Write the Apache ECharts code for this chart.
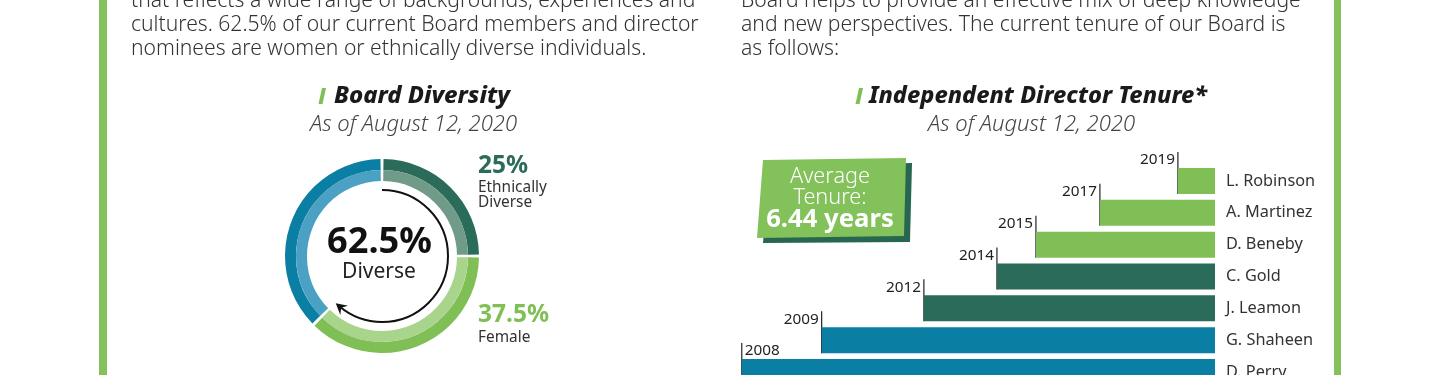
<!DOCTYPE html>
<html><head><meta charset="utf-8">
<script src="https://cdn.jsdelivr.net/npm/echarts@6/dist/echarts.min.js"></script>
<style>html,body{margin:0;padding:0;background:#fff}#c{width:1440px;height:375px}</style>
</head><body><div id="c"></div>
<script>
// ---- data ----
const diversityCategories = ['Ethnically Diverse', 'Female', 'Other'];
const diversityValues = [25, 37.5, 37.5];
const diverseTotalLabel = '62.5%';
const directorNames = ['L. Robinson', 'A. Martinez', 'D. Beneby', 'C. Gold', 'J. Leamon', 'G. Shaheen', 'D. Perry'];
const joinYears = ['2019', '2017', '2015', '2014', '2012', '2009', '2008'];
const tenureYears = [0.98, 3.04, 4.73, 5.76, 7.69, 10.39, 12.5];
const tenureGroup = [0, 0, 0, 1, 1, 2, 2];
const averageTenureLabel = '6.44 years';
const leftParagraph = [
  'that reflects a wide range of backgrounds, experiences and',
  'cultures. 62.5% of our current Board members and director',
  'nominees are women or ethnically diverse individuals.'
];
const rightParagraph = [
  'Board helps to provide an effective mix of deep knowledge',
  'and new perspectives. The current tenure of our Board is',
  'as follows:'
];
const asOfLabel = 'As of August 12, 2020';

// ---- styling ----
const F = "'Noto Sans', 'Open Sans', sans-serif";
const GREEN = '#80bf55', GREEN_IN = '#a9d48b';
const DGREEN = '#2b6b59', DGREEN_IN = '#709b89';
const BLUE = '#0b7fa3', BLUE_IN = '#4ba1c3';
const barColors = [GREEN, DGREEN, BLUE];
const TEXT = '#333';

const mctx = document.createElement('canvas').getContext('2d');
function fit(text, style, target) {
  mctx.font = style + ' 100px ' + F;
  return Math.round(100 * target / mctx.measureText(text).width * 10) / 10;
}
function font(style, size) { return style + ' ' + size + 'px ' + F; }

const chart = echarts.init(document.getElementById('c'));
const CX = 382, CY = 256;

const graphics = [];
// side borders
graphics.push({type: 'rect', shape: {x: 99, y: 0, width: 8, height: 375}, style: {fill: '#85c15a'}});
graphics.push({type: 'rect', shape: {x: 1334, y: 0, width: 7, height: 375}, style: {fill: '#85c15a'}});
// paragraphs
const paraSize = fit(leftParagraph[1], '300', 568);
leftParagraph.forEach((t, i) => graphics.push({type: 'text', x: 131, y: 1 + i * 24,
  style: {text: t, font: font('300', paraSize), fill: TEXT, verticalAlign: 'middle'}}));
rightParagraph.forEach((t, i) => graphics.push({type: 'text', x: 741, y: 1 + i * 24,
  style: {text: t, font: font('300', paraSize), fill: TEXT, verticalAlign: 'middle'}}));
// titles
function title(slashX, x, y, txt, w) {
  graphics.push({type: 'polygon', shape: {points: [[slashX + 3, y - 8], [slashX + 7, y - 8], [slashX + 3.5, y + 8], [slashX - 0.5, y + 8]]}, style: {fill: GREEN}});
  graphics.push({type: 'text', x: x, y: y, style: {text: txt, font: font('italic 800', fit(txt, 'italic 800', w)),
    fill: '#1a1a1a', verticalAlign: 'middle'}});
}
title(319, 334, 96, 'Board Diversity', 176);
title(856, 869, 96, 'Independent Director Tenure*', 338);
const subSize = fit(asOfLabel, 'italic 300', 207);
graphics.push({type: 'text', x: 413.5, y: 125, style: {text: asOfLabel, font: font('italic 300', subSize), fill: '#444', align: 'center', verticalAlign: 'middle'}});
graphics.push({type: 'text', x: 1031.5, y: 125, style: {text: asOfLabel, font: font('italic 300', subSize), fill: '#444', align: 'center', verticalAlign: 'middle'}});
// donut center text
graphics.push({type: 'text', x: 379.5, y: 243, style: {text: diverseTotalLabel, font: font('bold', fit(diverseTotalLabel, 'bold', 105)), fill: '#111', align: 'center', verticalAlign: 'middle'}});
graphics.push({type: 'text', x: 379, y: 272, style: {text: 'Diverse', font: font('normal', fit('Diverse', 'normal', 74)), fill: '#222', align: 'center', verticalAlign: 'middle'}});
// donut labels
const pctSize = fit(diversityValues[1] + '%', 'bold', 71);
const smallSize = fit('Ethnically', 'normal', 69);
graphics.push({type: 'text', x: 478, y: 166, style: {text: diversityValues[0] + '%', font: font('bold', pctSize), fill: DGREEN, verticalAlign: 'middle'}});
graphics.push({type: 'text', x: 478, y: 188, style: {text: 'Ethnically', font: font('normal', smallSize), fill: TEXT, verticalAlign: 'middle'}});
graphics.push({type: 'text', x: 478, y: 203, style: {text: 'Diverse', font: font('normal', smallSize), fill: TEXT, verticalAlign: 'middle'}});
graphics.push({type: 'text', x: 478, y: 315, style: {text: diversityValues[1] + '%', font: font('bold', pctSize), fill: GREEN, verticalAlign: 'middle'}});
graphics.push({type: 'text', x: 478, y: 338, style: {text: diversityCategories[1], font: font('normal', smallSize), fill: TEXT, verticalAlign: 'middle'}});
// arrow
const R = 66, endA = 130 * Math.PI / 180;
graphics.push({type: 'arc', shape: {cx: CX, cy: CY, r: R, startAngle: -Math.PI / 2, endAngle: endA, clockwise: true},
  style: {stroke: '#111', lineWidth: 2, fill: null}});
(function () {
  const ex = CX + R * Math.cos(endA), ey = CY + R * Math.sin(endA);
  const dx = -Math.sin(endA), dy = Math.cos(endA);
  const px = -dy, py = dx;
  const tip = [ex + dx * 5, ey + dy * 5];
  const b1 = [ex - dx * 6 + px * 6, ey - dy * 6 + py * 6];
  const b2 = [ex - dx * 6 - px * 6, ey - dy * 6 - py * 6];
  graphics.push({type: 'polygon', shape: {points: [tip, b1, [ex - dx * 2, ey - dy * 2], b2]}, style: {fill: '#111'}});
})();
// average tenure box
graphics.push({type: 'polygon', shape: {points: [[769, 166], [912, 163], [910, 242], [763, 243]]}, style: {fill: '#276650'}});
graphics.push({type: 'polygon', shape: {points: [[763, 160], [906, 158], [904, 236], [757, 238]]}, style: {fill: '#83c15a'}});
const boxSize = fit('Average', '300', 80);
graphics.push({type: 'text', x: 830, y: 177, style: {text: 'Average', font: font('300', boxSize), fill: '#fff', align: 'center', verticalAlign: 'middle'}});
graphics.push({type: 'text', x: 830, y: 198, style: {text: 'Tenure:', font: font('300', boxSize), fill: '#fff', align: 'center', verticalAlign: 'middle'}});
graphics.push({type: 'text', x: 830, y: 220, style: {text: averageTenureLabel, font: font('bold', fit(averageTenureLabel, 'bold', 128)), fill: '#fff', align: 'center', verticalAlign: 'middle'}});

const pieCommon = {
  type: 'pie', center: [CX, CY], startAngle: 90, clockwise: true, padAngle: 1.8,
  label: {show: false}, labelLine: {show: false}, silent: true, emphasis: {disabled: true}
};
const barData = tenureYears.map((v, i) => ({value: v, itemStyle: {color: barColors[tenureGroup[i]]}}));
const nameSize = fit('L. Robinson', 'normal', 89);
const yearSize = fit('2019', 'normal', 35);

chart.setOption({
  animation: false,
  graphic: graphics,
  grid: {left: 685, width: 530, top: 181, height: 191, containLabel: false, outerBoundsMode: 'none'},
  xAxis: {type: 'value', inverse: true, min: 0, max: 14, show: false},
  yAxis: {type: 'category', inverse: true, position: 'right', data: directorNames, boundaryGap: false,
    axisLine: {show: false}, axisTick: {show: false},
    axisLabel: {margin: 11, color: '#333', fontFamily: F, fontSize: nameSize}},
  series: [
    Object.assign({}, pieCommon, {radius: [86, 97],
      data: diversityValues.map((v, i) => ({name: diversityCategories[i], value: v, itemStyle: {color: [DGREEN, GREEN, BLUE][i]}}))}),
    Object.assign({}, pieCommon, {radius: [75, 86],
      data: diversityValues.map((v, i) => ({name: diversityCategories[i], value: v, itemStyle: {color: [DGREEN_IN, GREEN_IN, BLUE_IN][i]}}))}),
    {type: 'bar', data: barData, barWidth: 26, silent: true},
    {type: 'custom', silent: true, data: tenureYears.map((v, i) => [v, i, joinYears[i]]),
      encode: {x: 0, y: 1},
      renderItem: function (params, api) {
        const p = api.coord([api.value(0), api.value(1)]);
        const top = p[1] - 13, bottom = p[1] + 13;
        const last = params.dataIndex === tenureYears.length - 1;
        return {type: 'group', children: [
          {type: 'line', shape: {x1: p[0], y1: top - 16, x2: p[0], y2: bottom}, style: {stroke: '#222', lineWidth: 1.2}},
          {type: 'text', x: last ? p[0] + 3 : p[0] - 3, y: top - 8,
            style: {text: api.value(2), font: font('normal', yearSize), fill: '#222', align: last ? 'left' : 'right', verticalAlign: 'middle'}}
        ]};
      }}
  ]
});
</script></body></html>
